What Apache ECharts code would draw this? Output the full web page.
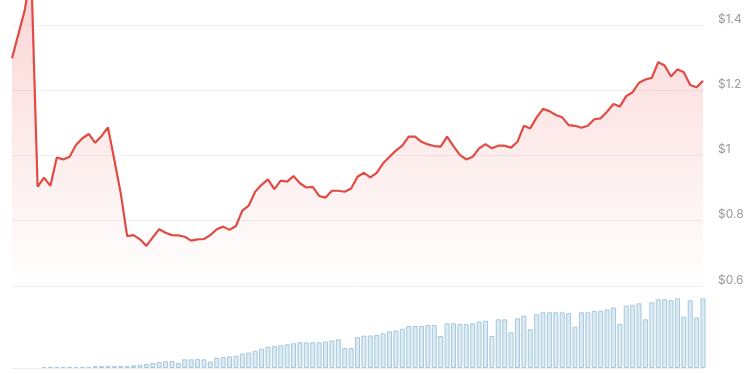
<!DOCTYPE html>
<html>
<head>
<meta charset="utf-8">
<script src="https://cdn.jsdelivr.net/npm/echarts@6/dist/echarts.min.js"></script>
<style>
html,body{margin:0;padding:0;background:#fff;}
#chart{width:750px;height:375px;}
</style>
</head>
<body>
<div id="chart"></div>
<script>
// Price (USD) per period
var prices = [1.298,1.372,1.446,1.570,0.904,0.932,0.907,0.994,0.988,0.996,
1.032,1.053,1.066,1.039,1.060,1.086,0.986,0.884,0.753,0.756,
0.743,0.723,0.749,0.774,0.763,0.756,0.755,0.751,0.739,0.743,
0.744,0.756,0.774,0.782,0.772,0.784,0.831,0.846,0.889,0.910,
0.927,0.897,0.923,0.920,0.937,0.915,0.902,0.904,0.876,0.871,
0.892,0.892,0.889,0.899,0.935,0.947,0.933,0.947,0.976,0.996,
1.015,1.030,1.058,1.058,1.042,1.034,1.029,1.027,1.058,1.029,
1.002,0.988,0.996,1.022,1.035,1.022,1.030,1.030,1.024,1.042,
1.091,1.083,1.117,1.143,1.136,1.124,1.117,1.093,1.091,1.085,
1.091,1.111,1.114,1.134,1.158,1.150,1.182,1.194,1.223,1.233,
1.238,1.286,1.276,1.242,1.264,1.255,1.216,1.209,1.229];

// Volume per period (relative units)
var volumes = [null,null,null,null,null,1,1,1,1,1,
1,1,1,1.8,1.8,1.8,1.8,1.8,1.8,2.7,
3.3,4,5,6,6.7,7,5,8.7,8.7,9,
8.7,6.5,10.3,11,11.7,12.3,14.5,15.3,17.3,19.3,
21.2,22,22.8,23.7,24.7,25.7,25.7,25.7,25.7,26.5,
27.5,28.7,20,20,30.8,32.3,32.5,33,34.7,36.7,
37.5,39.3,42,42,42,43,43,32,44.7,44.7,
44,44,44.7,46.5,47.3,32,48.7,48.7,35.7,49.7,
52.3,38.7,53.8,55.7,55.7,55.7,55.7,54.8,41.3,55.7,
55.7,57,57.3,58.5,60.5,44,62.3,63.2,64.7,48.7,
65.7,68.7,68.7,67.8,69.7,51.3,67.7,50.5,69.7];

// Price axis ticks
var priceMin = 0.6, priceMax = 1.4, priceStep = 0.2;

var categories = prices.map(function(_, i){ return String(i + 1); });

var chart = echarts.init(document.getElementById('chart'), null, {renderer:'canvas'});
chart.setOption({
  animation: false,
  backgroundColor: '#ffffff',
  textStyle: {fontFamily: 'Inter, "Noto Sans", sans-serif'},
  grid: [
    {left: 12, right: 47, top: 25, height: 261},
    {left: 12, right: 47, top: 293, height: 75}
  ],
  xAxis: [
    {type:'category', gridIndex:0, data: categories, boundaryGap:false,
     axisLine:{show:false}, axisTick:{show:false}, axisLabel:{show:false}, splitLine:{show:false}},
    {type:'category', gridIndex:1, data: categories, boundaryGap:false,
     axisLine:{show:true, lineStyle:{color:'#eeeeee'}}, axisTick:{show:false}, axisLabel:{show:false}, splitLine:{show:false}}
  ],
  yAxis: [
    {type:'value', gridIndex:0, position:'right', min: priceMin, max: priceMax, interval: priceStep,
     axisLine:{show:false}, axisTick:{show:false},
     splitLine:{show:true, lineStyle:{color:'#f0f0f0', width:1}},
     axisLabel:{show:true, margin:15, color:'#9a9a9a', fontSize:12, verticalAlign:'bottom',
       formatter: function(v){ return '$' + (+v.toFixed(2)); }}},
    {type:'value', gridIndex:1, min:0, max:75,
     axisLine:{show:false}, axisTick:{show:false}, axisLabel:{show:false}, splitLine:{show:false}}
  ],
  series: [
    {type:'line', xAxisIndex:0, yAxisIndex:0, data: prices, clip:false,
     showSymbol:false, symbol:'none', smooth:false,
     lineStyle:{color:'#e04b43', width:2.2},
     areaStyle:{origin:'start', color: new echarts.graphic.LinearGradient(0,0,0,1,[
       {offset:0, color:'rgba(240,90,90,0.38)'},
       {offset:1, color:'rgba(240,90,90,0.0)'}
     ])}},
    {type:'bar', xAxisIndex:1, yAxisIndex:1, data: volumes, barWidth:5,
     itemStyle:{color:'#d9ebf6', borderColor:'#a8c8da', borderWidth:1}}
  ]
});
</script>
</body>
</html>
